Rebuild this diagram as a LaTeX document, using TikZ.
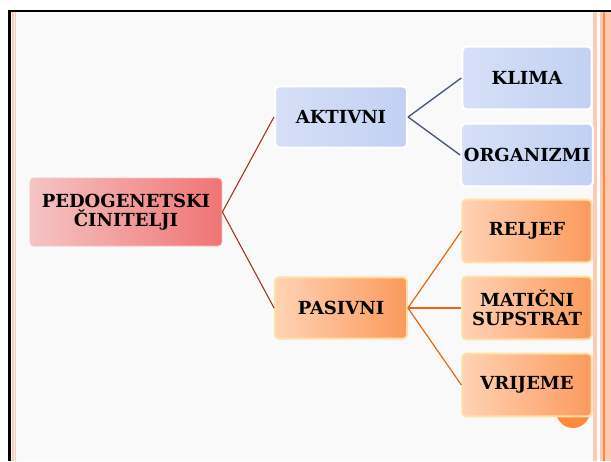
\documentclass[tikz,border=0pt]{standalone}
\usepackage{fontspec}
\setmainfont{DejaVu Serif}
\usetikzlibrary{positioning}

\definecolor{slidebg}{HTML}{F9F9F9}
\definecolor{palerim}{HTML}{FFC9B4}
\definecolor{darkrim}{HTML}{FF8A3C}
\definecolor{redlink}{HTML}{A8301E}
\definecolor{bluelink}{HTML}{45567C}
\definecolor{orangelink}{HTML}{E8650F}
\definecolor{rootleft}{HTML}{F5C4C4}
\definecolor{rootright}{HTML}{F07474}
\definecolor{blueleft}{HTML}{D6E0F7}
\definecolor{blueright}{HTML}{C2D0F2}
\definecolor{orangeleft}{HTML}{FFD2B4}
\definecolor{orangeright}{HTML}{FB9A5C}
\definecolor{orangerim}{HTML}{FDE0A8}

\begin{document}
\begin{tikzpicture}[
  x=0.75pt, y=-0.75pt,
  box/.style       = {rounded corners=3pt, inner sep=2pt, align=center,
                      font=\fontsize{13.5}{14.5}\selectfont\bfseries},
  rootbox/.style   = {box, minimum width=144pt, minimum height=51pt,
                      left color=rootleft, right color=rootright,
                      draw=rootleft, line width=0.6pt},
                       % the root: pink to red, left to right
  bluebox/.style   = {box, minimum width=99pt, minimum height=46pt,
                      left color=blueleft, right color=blueright,
                      draw=white, line width=1.6pt},
  orangebox/.style = {box, minimum width=99pt, minimum height=46pt,
                      left color=orangeleft, right color=orangeright,
                      draw=orangerim, line width=1.4pt},
  leafblue/.style  = {bluebox, minimum width=97pt, minimum height=47pt},
  leaforange/.style= {orangebox, minimum width=97pt, minimum height=47pt},
  redline/.style   = {redlink, line width=0.8pt},
  blueline/.style  = {bluelink, line width=1pt},
  orangeline/.style= {orangelink, line width=0.9pt},
]
  \useasboundingbox (0,0) rectangle (611,461);

  % slide frame
  \fill[white] (0,0) rectangle (611,461);
  \fill[slidebg] (11,12) rectangle (593,461);
  \draw[palerim, line width=1pt] (13,12) -- (13,461);
  \draw[palerim, line width=1pt] (15.5,12) -- (15.5,461);
  \fill[palerim] (593,12) rectangle (597,461);
  \fill[palerim] (600,12) rectangle (611,461);
  \draw[darkrim, line width=1.1pt] (604,12) -- (604,461);
  \draw[black, line width=2pt] (9.5,11) -- (611,11);
  \draw[black, line width=2pt] (9.5,10) -- (9.5,461);

  % orange disc peeking below the last leaf
  \fill[darkrim] (573,411) circle (12.75pt);

  \node[rootbox] (pedo) at (126,212) {PEDOGENETSKI\\ČINITELJI};

  \node[bluebox]   (aktiv) at (341,117) {AKTIVNI};
  \node[orangebox] (pasiv) at (341,308) {PASIVNI};

  \node[leafblue] (klima) at (527,78)  {KLIMA};
  \node[leafblue] (organ) at (527,155) {ORGANIZMI};

  \node[leaforange] (reljef) at (527,231) {RELJEF};
  \node[leaforange] (supst)  at (527,308) {MATIČNI\\SUPSTRAT};
  \node[leaforange] (vrij)   at (527,385) {VRIJEME};

  \draw[redline] (pedo.east) -- (aktiv.west);
  \draw[redline] (pedo.east) -- (pasiv.west);

  \draw[blueline] (aktiv.east) -- (klima.west);
  \draw[blueline] (aktiv.east) -- (organ.west);

  \draw[orangeline] (pasiv.east) -- (reljef.west);
  \draw[orangeline] (pasiv.east) -- (supst.west);
  \draw[orangeline] (pasiv.east) -- (vrij.west);
\end{tikzpicture}
\end{document}
